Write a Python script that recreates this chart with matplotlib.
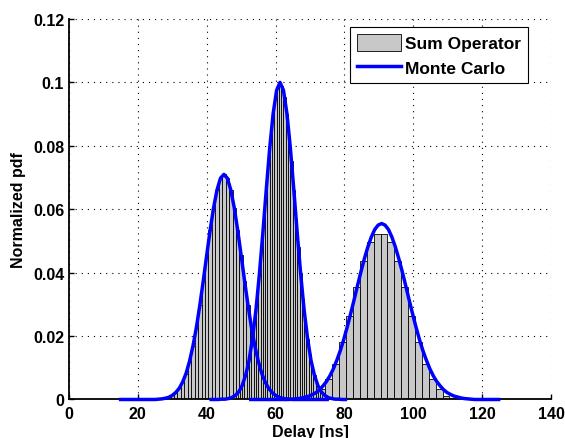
import numpy as np
import matplotlib
matplotlib.use("Agg")
import matplotlib.pyplot as plt
from matplotlib.ticker import FuncFormatter

plt.rcParams['font.family'] = ['Liberation Sans', 'DejaVu Sans']
plt.rcParams['font.weight'] = 'bold'
plt.rcParams['font.size'] = 11.5

# Sum operator histogram, mode 1 (1 ns bins, centres 29..61 ns)
bins1_start, bins1_width = 29.0, 1.0
hist1 = [0.0007, 0.0013, 0.0022, 0.0035, 0.0055, 0.0082, 0.0120, 0.0168, 0.0227,
         0.0297, 0.0374, 0.0455, 0.0534, 0.0605, 0.0661, 0.0698, 0.0710, 0.0698,
         0.0661, 0.0605, 0.0534, 0.0455, 0.0374, 0.0297, 0.0227, 0.0168, 0.0120,
         0.0082, 0.0055, 0.0035, 0.0022, 0.0013, 0.0007]

# mode 2 (2/3 ns bins, centres 49.3..73.3 ns)
bins2_start, bins2_width = 49.3, 2.0 / 3.0
hist2 = [0.0024, 0.0036, 0.0053, 0.0076, 0.0105, 0.0144, 0.0192, 0.0249, 0.0317,
         0.0395, 0.0480, 0.0570, 0.0662, 0.0751, 0.0832, 0.0902, 0.0955, 0.0989,
         0.0998,
         0.0989, 0.0955, 0.0902, 0.0832, 0.0751, 0.0662, 0.0570, 0.0480, 0.0395,
         0.0317, 0.0249, 0.0192, 0.0144, 0.0105, 0.0076, 0.0053, 0.0036, 0.0024]

# mode 3 (2 ns bins, centres 71.5..113.5 ns)
bins3_start, bins3_width = 71.5, 2.0
hist3 = [0.0012, 0.0033, 0.0065, 0.0112, 0.0180, 0.0262, 0.0354, 0.0438, 0.0496,
         0.0522, 0.0522, 0.0496, 0.0438, 0.0354, 0.0262, 0.0180, 0.0112, 0.0065,
         0.0033, 0.0012, 0.0004, 0.0001]

# Monte Carlo curves (1 ns steps)
mc1_start = 15.0
mc1 = [0, 0, 0, 0, 0, 0, 0, 0, 0, 0, 0, 0.0001, 0.0002, 0.0004, 0.0007, 0.0013,
       0.0022, 0.0035, 0.0055, 0.0082, 0.0120, 0.0168, 0.0227, 0.0297, 0.0374,
       0.0455, 0.0534, 0.0605, 0.0661, 0.0698, 0.0710, 0.0698, 0.0661, 0.0605,
       0.0534, 0.0455, 0.0374, 0.0297, 0.0227, 0.0168, 0.0120, 0.0082, 0.0055,
       0.0035, 0.0022, 0.0013, 0.0007, 0.0004, 0.0002, 0.0001, 0, 0, 0, 0, 0,
       0, 0, 0, 0, 0, 0]

mc2_start = 41.3
mc2 = [0, 0, 0, 0.0001, 0.0001, 0.0003, 0.0006, 0.0013, 0.0024, 0.0044, 0.0076,
       0.0123, 0.0192, 0.0282, 0.0395, 0.0524, 0.0662, 0.0793, 0.0902, 0.0975,
       0.1000, 0.0975, 0.0902, 0.0793, 0.0662, 0.0524, 0.0395, 0.0282, 0.0192,
       0.0123, 0.0076, 0.0044, 0.0024, 0.0013, 0.0006, 0.0003, 0.0001, 0.0001,
       0, 0]

mc3_start = 52.8
mc3 = [0, 0, 0, 0, 0, 0, 0, 0, 0, 0, 0, 0,
       0.0001, 0.0002, 0.0003, 0.0005, 0.0008, 0.0011, 0.0016, 0.0022, 0.0031,
       0.0043, 0.0057, 0.0075, 0.0097, 0.0124, 0.0154, 0.0189, 0.0228, 0.0270,
       0.0314, 0.0359, 0.0403, 0.0444, 0.0481, 0.0512, 0.0536, 0.0550, 0.0555,
       0.0550, 0.0536, 0.0512, 0.0481, 0.0444, 0.0403, 0.0359, 0.0314, 0.0270,
       0.0228, 0.0189, 0.0154, 0.0124, 0.0097, 0.0075, 0.0057, 0.0043, 0.0031,
       0.0022, 0.0016, 0.0011, 0.0008, 0.0005, 0.0003, 0.0002, 0.0001,
       0, 0, 0, 0, 0, 0, 0, 0]

xticks = [0, 20, 40, 60, 80, 100, 120, 140]
yticks = [0, 0.02, 0.04, 0.06, 0.08, 0.1, 0.12]

fig = plt.figure(figsize=(5.65, 4.39), dpi=100)
ax = fig.add_axes([0.1221, 0.0877, 0.8531, 0.8667])

bar_kw = dict(color='#c8c8c8', edgecolor='k', linewidth=0.6)
handles = []
for start, width, h in [(bins3_start, bins3_width, hist3),
                        (bins1_start, bins1_width, hist1),
                        (bins2_start, bins2_width, hist2)]:
    centers = start + width * np.arange(len(h))
    b = ax.bar(centers, h, width=width, **bar_kw)
    if not handles:
        handles.append(b)

for start, ys in [(mc1_start, mc1), (mc2_start, mc2), (mc3_start, mc3)]:
    xs = start + np.arange(len(ys))
    ln, = ax.plot(xs, ys, color='#0000ff', lw=2.5, clip_on=False, zorder=5)
    if len(handles) == 1:
        handles.append(ln)

ax.set_xlim(0, 140)
ax.set_ylim(0, 0.12)
ax.set_xticks(xticks)
ax.set_yticks(yticks)
ax.yaxis.set_major_formatter(FuncFormatter(lambda v, p: '%g' % v))
ax.tick_params(direction='in', length=3.5, width=1, pad=3.5)
ax.tick_params(axis='x', pad=4.5)

ax.set_axisbelow(True)
ax.grid(True, color='k', lw=0.8, linestyle=(0, (1, 4.5)))
for s in ['top', 'right']:
    ax.spines[s].set_visible(False)
for s in ['left', 'bottom']:
    ax.spines[s].set_linewidth(1.3)

ax.set_xlabel('Delay [ns]', fontweight='bold')
ax.set_ylabel('Normalized pdf', fontweight='bold')
ax.xaxis.set_label_coords(0.5, -0.064)
ax.yaxis.set_label_coords(-0.089, 0.5)

leg = ax.legend(handles, ['Sum Operator', 'Monte Carlo'], loc='upper right',
                bbox_to_anchor=(0.952, 0.979), borderaxespad=0,
                fancybox=False, framealpha=1, edgecolor='k', handlelength=2.5,
                handleheight=1.1, handletextpad=0.25, labelspacing=0.45,
                borderpad=0.4, prop={'weight': 'bold', 'size': 12.5})
leg.get_frame().set_linewidth(0.8)

fig.savefig('out.png', dpi=100)
